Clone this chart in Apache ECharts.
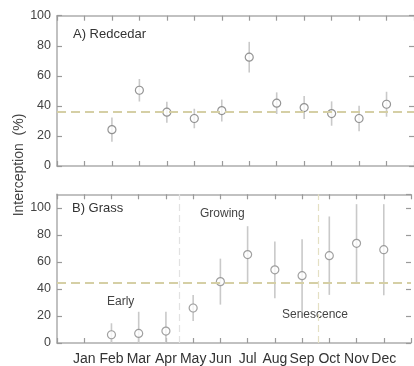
<!DOCTYPE html>
<html><head><meta charset="utf-8">
<script src="https://cdn.jsdelivr.net/npm/echarts@6/dist/echarts.min.js"></script>
<style>html,body{margin:0;padding:0;background:#fff}#c{width:414px;height:366px}</style>
</head><body><div id="c"></div>
<script>
var months = ['Jan','Feb','Mar','Apr','May','Jun','Jul','Aug','Sep','Oct','Nov','Dec'];
var redcedarMonthIdx = [2,3,4,5,6,7,8,9,10,11,12];
var redcedarMean = [24.2,50.4,35.8,31.6,36.9,72.4,41.8,38.9,34.9,31.6,41.1];
var redcedarErr  = [8,7.5,7,6.5,7.3,10.2,7.2,7.7,8.1,8.5,8.3];
var redcedarAvg = 36;
var grassMonthIdx = [2,3,4,5,6,7,8,9,10,11,12];
var grassMean = [6.1,7.1,8.8,25.9,45.4,65.4,54.1,49.8,64.6,73.7,69];
var grassErr  = [8.5,16,14.4,9.6,17,21,21,27,29,29,33.7];
var grassAvg = 44.5;
var phaseBreaks = [4.5, 9.58];

var font = 'Liberation Sans, Arial, sans-serif';
var axisCol = '#adadad';
var tickCol = '#9a9a9a';

function pts(idx, mean){ return idx.map(function(m,i){return [m, mean[i]];}); }
function errs(idx, mean, err){ return idx.map(function(m,i){return [m, Math.max(0, mean[i]-err[i]), mean[i]+err[i]];}); }

function errSeries(xi, yi, data){
  return {
    type:'custom', xAxisIndex:xi, yAxisIndex:yi, data:data, z:2, silent:true,
    renderItem:function(params, api){
      var a = api.coord([api.value(0), api.value(1)]);
      var b = api.coord([api.value(0), api.value(2)]);
      return {type:'line', shape:{x1:a[0],y1:a[1],x2:b[0],y2:b[1]}, style:{stroke:'#c9c9c9', lineWidth:1.6}};
    }
  };
}

function xAx(grid, pos, labels){
  return {
    type:'value', gridIndex:grid, position:pos, min:0, max:13, interval:1,
    axisLine:{show:true, onZero:false, lineStyle:{color:axisCol, width:1.5}},
    axisTick:{show:true, inside:true, length:5, lineStyle:{color:tickCol, width:1.2}},
    splitLine:{show:false},
    axisLabel:{show:labels, color:'#333', fontSize:14, fontFamily:font, margin:9,
      formatter:function(v){ return (v>=1 && v<=12) ? months[v-1] : ''; }}
  };
}
function yAx(grid, pos, max, labels){
  return {
    type:'value', gridIndex:grid, position:pos, min:0, max:max, interval:20,
    axisLine:{show:pos==='left', onZero:false, lineStyle:{color:axisCol, width:1.5}},
    axisTick:{show:true, inside:true, length:5, lineStyle:{color:tickCol, width:1.2}},
    splitLine:{show:false},
    axisLabel:{show:labels, color:'#444', fontSize:12.5, fontFamily:font, margin:6, showMaxLabel: max===100,
      formatter:function(v){ return v<=100 ? v : ''; }}
  };
}

var chart = echarts.init(document.getElementById('c'), null, {renderer:'canvas'});
chart.setOption({
  animation:false,
  grid:[
    {left:57, right:-3, top:15.7, height:150.3},
    {left:57, right:-3, top:194.3, height:149.7}
  ],
  xAxis:[xAx(0,'bottom',false), xAx(0,'top',false), xAx(1,'bottom',true), xAx(1,'top',false)],
  yAxis:[yAx(0,'left',100,true), yAx(0,'right',100,false), yAx(1,'left',110,true), yAx(1,'right',110,false)],
  series:[
    errSeries(0,0,errs(redcedarMonthIdx, redcedarMean, redcedarErr)),
    {type:'scatter', xAxisIndex:0, yAxisIndex:0, data:pts(redcedarMonthIdx, redcedarMean), z:3,
     symbol:'circle', symbolSize:8, itemStyle:{color:'#fff', borderColor:'#7a7a7a', borderWidth:1.2},
     markLine:{silent:true, symbol:'none', label:{show:false},
       lineStyle:{color:'#d5cfa5', width:2, type:[9,5]}, data:[{yAxis:redcedarAvg}]}},
    errSeries(2,2,errs(grassMonthIdx, grassMean, grassErr)),
    {type:'scatter', xAxisIndex:2, yAxisIndex:2, data:pts(grassMonthIdx, grassMean), z:3,
     symbol:'circle', symbolSize:8, itemStyle:{color:'#fff', borderColor:'#8a8a8a', borderWidth:1.2},
     markLine:{silent:true, symbol:'none', label:{show:false}, data:[
       {yAxis:grassAvg, lineStyle:{color:'#d5cfa5', width:2, type:[9,5]}},
       {xAxis:phaseBreaks[0], lineStyle:{color:'#e2e2e2', width:1.2, type:[7,4]}},
       {xAxis:phaseBreaks[1], lineStyle:{color:'#e4e0c4', width:1.2, type:[7,4]}}
     ]}}
  ],
  graphic:[
    {type:'text', left:73, top:28, style:{text:'A) Redcedar', font:'13px '+font, fill:'#333'}},
    {type:'text', left:72, top:202, style:{text:'B) Grass', font:'13px '+font, fill:'#333'}},
    {type:'text', left:200, top:208, style:{text:'Growing', font:'12px '+font, fill:'#444'}},
    {type:'text', left:107, top:296, style:{text:'Early', font:'12px '+font, fill:'#444'}},
    {type:'text', left:282, top:309, style:{text:'Senescence', font:'12px '+font, fill:'#444'}},
    {type:'text', x:19, y:165, rotation:Math.PI/2, style:{text:'Interception  (%)', font:'14px '+font, fill:'#444', textAlign:'center', textVerticalAlign:'middle'}}
  ]
});
</script></body></html>
